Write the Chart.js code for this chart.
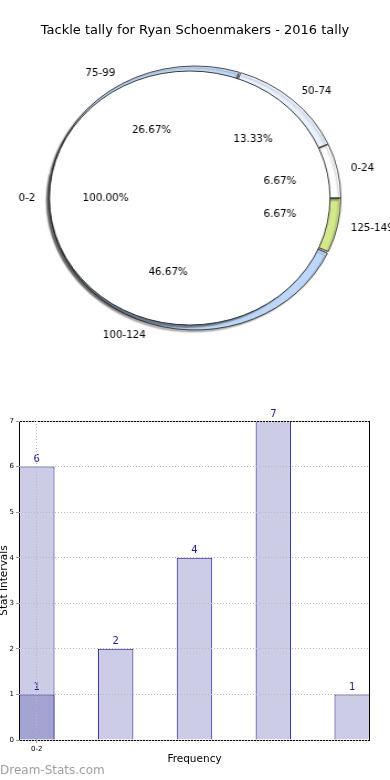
<!DOCTYPE html>
<html>
<head>
<meta charset="utf-8">
<script src="https://cdn.jsdelivr.net/npm/chart.js@4.4.0/dist/chart.umd.min.js"></script>
<style>
    html, body { margin: 0; padding: 0; background: #fff; }
    #wrap { position: relative; width: 390px; height: 780px; overflow: hidden; font-family: "DejaVu Sans", sans-serif; }
    #title { position: absolute; top: 22px; left: 0; width: 390px; text-align: center; font-size: 13px; line-height: 16px; color: #000; }
    #mark { position: absolute; left: 0; top: 762px; font-size: 12px; line-height: 16px; color: #a0a0a0; }
    canvas { position: absolute; left: 0; }
</style>
</head>
<body>
<div id="wrap">
    <canvas id="ring" width="353" height="390" style="top:0;width:390px;height:390px"></canvas>
    <canvas id="pie" width="353" height="390" style="top:0;width:390px;height:390px"></canvas>
    <div id="title">Tackle tally for Ryan Schoenmakers - 2016 tally</div>
    <canvas id="bars" width="390" height="390" style="top:390px;width:390px;height:390px"></canvas>
    <div id="mark">Dream-Stats.com</div>
</div>
<script>
// outer ring (clockwise from 3 o'clock)
const ringLabels = ['125-149', '100-124', '75-99', '50-74', '0-24'];
const ringValues = [1, 7, 4, 2, 1];
const ringColors = ['#d3e98c', '#bdd7f9', '#c4dbf8', '#e9f1fd', '#ffffff'];

// inner pie
const pieLabels = ['0-2'];
const pieValues = [1];

// bar chart
const barCenters = [0, 1, 2, 3, 4];
const barValues = [6, 2, 4, 7, 1];
const overlayCenters = [0];
const overlayValues = [1];
const xTickValues = [0];
const xTickLabels = ['0-2'];

const FONT = '"DejaVu Sans", sans-serif';
const SX = 390 / 353; // pie canvases are stretched sideways into an ellipse
Chart.defaults.font.family = FONT;

// text drawn un-stretched at a point of the stretched canvas
function put(ctx, text, x, y, align) {
    ctx.save();
    ctx.translate(x, y);
    ctx.scale(1 / SX, 1);
    ctx.textAlign = align;
    ctx.fillText(text, 0, 0);
    ctx.restore();
}

function sliceText(ctx, chart) {
    const ds = chart.data.datasets[0];
    const total = ds.data.reduce((a, b) => a + b, 0);
    ctx.save();
    ctx.font = '10.3px ' + FONT;
    ctx.fillStyle = '#000';
    ctx.textBaseline = 'middle';
    chart.getDatasetMeta(0).data.forEach((arc, i) => {
        const p = arc.getProps(['x', 'y', 'startAngle', 'endAngle', 'outerRadius'], true);
        const mid = (p.startAngle + p.endAngle) / 2;
        const c = Math.cos(mid), s = Math.sin(mid);
        const lr = p.outerRadius * 1.1, pr = p.outerRadius * 0.6;
        put(ctx, chart.data.labels[i], p.x + c * lr, p.y + s * lr, c > 0 ? 'left' : 'right');
        put(ctx, (ds.data[i] / total * 100).toFixed(2) + '%', p.x + c * pr, p.y + s * pr, 'center');
    });
    ctx.restore();
}

function shadowPlugin(alpha, dx, dy) {
    return {
        id: 'dropShadow',
        beforeDatasetsDraw(chart) {
            const ctx = chart.ctx;
            ctx.save();
            ctx.shadowColor = 'rgba(0,0,0,' + alpha + ')';
            ctx.shadowOffsetX = dx;
            ctx.shadowOffsetY = dy;
            ctx.shadowBlur = 1.5;
        },
        afterDatasetsDraw(chart) {
            chart.ctx.restore();
        }
    };
}

const sliceOutline = {
    id: 'sliceOutline',
    afterDatasetsDraw(chart) {
        const ctx = chart.ctx;
        ctx.save();
        ctx.strokeStyle = '#222';
        ctx.lineWidth = 0.9;
        chart.getDatasetMeta(0).data.forEach(arc => {
            const p = arc.getProps(['x', 'y', 'startAngle', 'endAngle', 'outerRadius'], true);
            ctx.beginPath();
            ctx.arc(p.x, p.y, p.outerRadius, p.startAngle, p.endAngle);
            ctx.stroke();
        });
        ctx.restore();
    }
};

const ringChart = new Chart(document.getElementById('ring'), {
    type: 'doughnut',
    data: {
        labels: ringLabels,
        datasets: [{
            data: ringValues,
            backgroundColor: ringColors,
            borderColor: '#222',
            borderWidth: 0.8,
            spacing: 2
        }]
    },
    options: {
        responsive: false,
        devicePixelRatio: 1,
        animation: false,
        rotation: 90,
        radius: 131,
        cutout: 121.5,
        layout: { padding: { top: 6 } },
        plugins: { legend: { display: false }, tooltip: { enabled: false } }
    },
    plugins: [shadowPlugin(0.3, -2, 2)]
});

// the pie sits over the ring, so all texts of both go on its canvas
const allText = {
    id: 'allText',
    afterDatasetsDraw(chart) {
        sliceText(chart.ctx, ringChart);
        sliceText(chart.ctx, chart);
    }
};

new Chart(document.getElementById('pie'), {
    type: 'pie',
    data: {
        labels: pieLabels,
        datasets: [{
            data: pieValues,
            backgroundColor: '#ffffff',
            borderWidth: 0
        }]
    },
    options: {
        responsive: false,
        devicePixelRatio: 1,
        animation: false,
        rotation: 90,
        radius: 127,
        layout: { padding: { top: 6, right: 9.5 } },
        plugins: { legend: { display: false }, tooltip: { enabled: false } }
    },
    plugins: [shadowPlugin(0.45, -3, 3), sliceOutline, allText]
});

const frame = {
    id: 'frame',
    afterDatasetsDraw(chart) {
        const { ctx, chartArea: a } = chart;
        ctx.save();
        ctx.strokeStyle = '#000';
        ctx.lineWidth = 1;
        ctx.strokeRect(a.left + 0.5, a.top + 0.5, a.right - a.left - 1, a.bottom - a.top);
        ctx.restore();
    }
};

const barValueText = {
    id: 'barValueText',
    afterDatasetsDraw(chart) {
        const ctx = chart.ctx;
        ctx.save();
        ctx.font = '10px ' + FONT;
        ctx.fillStyle = '#1c1c8c';
        ctx.textAlign = 'center';
        ctx.textBaseline = 'bottom';
        chart.data.datasets.forEach((ds, di) => {
            chart.getDatasetMeta(di).data.forEach((bar, i) => {
                ctx.fillText(String(ds.data[i].y), bar.x, bar.y - 2);
            });
        });
        ctx.restore();
    }
};

new Chart(document.getElementById('bars'), {
    type: 'bar',
    data: {
        datasets: [
            {
                data: overlayCenters.map((x, i) => ({ x: x, y: overlayValues[i] })),
                backgroundColor: '#a3a3d1',
                borderColor: '#0c0c80',
                borderWidth: 1,
                grouped: false,
                order: 0
            },
            {
                data: barCenters.map((x, i) => ({ x: x, y: barValues[i] })),
                backgroundColor: '#ccccE6',
                borderColor: '#0c0c80',
                borderWidth: 1,
                grouped: false,
                order: 1
            }
        ]
    },
    options: {
        responsive: false,
        devicePixelRatio: 1,
        animation: false,
        categoryPercentage: 1,
        barPercentage: 0.45,
        layout: { padding: { top: 31, right: 20, left: 0, bottom: 0 } },
        plugins: { legend: { display: false }, tooltip: { enabled: false } },
        scales: {
            x: {
                type: 'linear',
                min: -0.225,
                max: 4.225,
                offset: false,
                afterBuildTicks: s => { s.ticks = xTickValues.map(v => ({ value: v })); },
                afterFit: s => { s.height = 40; },
                ticks: {
                    callback: (v, i) => xTickLabels[i],
                    font: { size: 7 },
                    color: '#000',
                    padding: 2,
                    maxRotation: 0,
                    autoSkip: false
                },
                grid: { offset: false, color: '#b8b8b8', lineWidth: 1, tickLength: 3, tickColor: '#999', z: 1 },
                border: { display: false, dash: [1, 2] },
                title: { display: true, text: 'Frequency', font: { size: 10.5 }, color: '#000', padding: { top: 0, bottom: 14 } }
            },
            y: {
                min: 0,
                max: 7,
                afterFit: s => { s.width = 19; },
                ticks: { stepSize: 1, font: { size: 7 }, color: '#000', padding: 2 },
                grid: { color: '#b8b8b8', lineWidth: 1, tickLength: 3, tickColor: '#999', z: 1 },
                border: { display: false, dash: [1, 2] },
                title: { display: true, text: 'Stat Intervals', font: { size: 10.5 }, color: '#000', padding: { top: -2, bottom: 0 } }
            }
        }
    },
    plugins: [frame, barValueText]
});
</script>
</body>
</html>
